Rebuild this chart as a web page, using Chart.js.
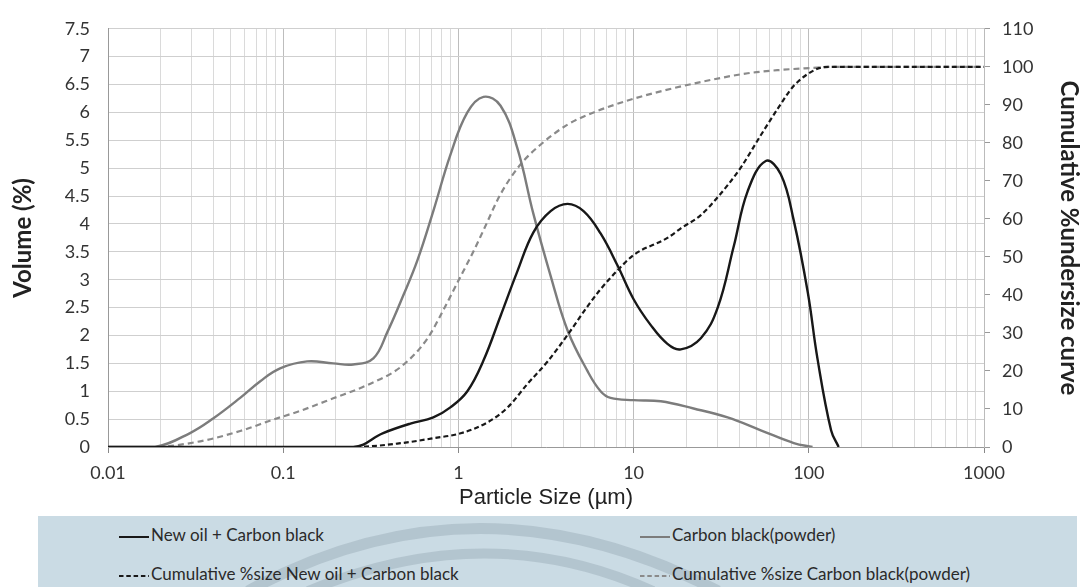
<!DOCTYPE html>
<html>
<head>
<meta charset="utf-8">
<title>Particle size distribution</title>
<script src="https://cdn.jsdelivr.net/npm/chart.js@4.4.1/dist/chart.umd.min.js"></script>
<style>
  body { margin: 0; background: #fff; width: 1081px; height: 587px; overflow: hidden; position: relative; font-family: Lato, sans-serif; }
  #chart-wrap { position: absolute; left: 0; top: 0; width: 1081px; height: 515px; }
  #legend-band { position: absolute; left: 38px; top: 516px; width: 1039px; height: 71px; background: #cadbe4; overflow: hidden; }
  #legend-band svg.deco { position: absolute; left: 0; top: 0; }
  .item { position: absolute; font-size: 17px; color: #2a2a2a; white-space: nowrap; line-height: 20px; }
  .item svg { vertical-align: middle; margin-right: 2px; }
</style>
</head>
<body>
<div id="chart-wrap"><canvas id="psd-chart" width="1081" height="515"></canvas></div>
<div id="legend-band">
  <svg class="deco" width="1039" height="71">
    <path d="M 210 75 Q 440 -50 680 75" fill="none" stroke="rgba(100,120,130,0.22)" stroke-width="11"/>
    <path d="M 270 75 Q 450 0 615 75" fill="none" stroke="rgba(100,120,130,0.22)" stroke-width="10"/>
  </svg>
  <div id="legend"></div>
</div>
<script>
// values (size in µm)
const blendSize = [0.01, 0.251, 0.372, 0.532, 0.719, 0.90, 1.125, 1.39, 1.74, 2.17, 2.68, 3.36, 4.2, 5.18, 6.48, 8.11, 10, 12.5, 15.6, 18.6, 24.2, 30.2, 37.3, 44.8, 56.8, 69.2, 82.1, 98.7, 112, 134, 148];
const blendVolume = [0, 0, 0.25, 0.42, 0.53, 0.71, 1.0, 1.55, 2.35, 3.15, 3.85, 4.23, 4.36, 4.23, 3.83, 3.25, 2.65, 2.19, 1.85, 1.75, 1.95, 2.5, 3.6, 4.59, 5.13, 4.89, 4.06, 2.77, 1.59, 0.30, 0];

const blendCumSize = [0.01, 0.251, 0.467, 0.719, 1.03, 1.47, 1.91, 2.48, 3.23, 4.2, 5.46, 6.48, 8.11, 10, 15.6, 18.6, 24.2, 30.2, 40.9, 53.2, 66.5, 82.1, 112, 130, 1000];
const blendCumulative = [0, 0, 1, 2.3, 3.6, 6.5, 10.4, 16.6, 22.5, 29.5, 37, 41.5, 46.5, 50.5, 55, 57.5, 61, 65.7, 73.5, 82, 89, 95, 99.5, 100, 100];

const powderSize = [0.01, 0.0186, 0.0294, 0.0398, 0.0568, 0.074, 0.096, 0.137, 0.193, 0.251, 0.327, 0.393, 0.485, 0.584, 0.719, 0.90, 1.125, 1.39, 1.74, 2.17, 2.68, 3.36, 4.2, 5.46, 6.48, 7.39, 10, 14.3, 22, 34.4, 53.2, 82.1, 105];
const powderVolume = [0, 0, 0.25, 0.51, 0.88, 1.18, 1.41, 1.535, 1.50, 1.48, 1.59, 2.06, 2.72, 3.35, 4.23, 5.24, 6.0, 6.28, 6.12, 5.36, 4.18, 3.07, 2.09, 1.36, 1.0, 0.88, 0.84, 0.82, 0.69, 0.53, 0.30, 0.07, 0];

const powderCumSize = [0.01, 0.0181, 0.0336, 0.0568, 0.0877, 0.125, 0.193, 0.302, 0.467, 0.665, 0.82, 0.994, 1.22, 1.39, 1.74, 2.26, 2.94, 4.2, 5.91, 10, 19.3, 44.8, 70, 112, 130, 1000];
const powderCumulative = [0, 0, 1.5, 4.2, 7.2, 9.5, 12.8, 16.3, 21, 28.5, 36, 43.5, 51.5, 57, 66.5, 74.3, 79.5, 84.8, 88, 91.6, 95, 98.3, 99.2, 99.8, 100, 100];

const decades = [0.01, 0.1, 1, 10, 100, 1000];
const minorSteps = [2, 3, 4, 5, 6, 7, 8, 9];

const seriesNames = [
    'New oil + Carbon black',
    'Cumulative %size New oil + Carbon black',
    'Carbon black(powder)',
    'Cumulative %size Carbon black(powder)'
];

const DARK = '#181818';
const GREY = '#7c7c7c';
const GREY_DASH = '#8a8a8a';

const toPoints = (xs, ys) => xs.map((x, i) => ({ x: x, y: ys[i] }));
const isDecade = v => Math.abs(Math.log10(v) - Math.round(Math.log10(v))) < 1e-9;

const tickFont = { family: 'Lato', size: 18 };
const titleFont = { family: 'Lato', size: 24, weight: 'bold' };

const ctx = document.getElementById('psd-chart').getContext('2d');
new Chart(ctx, {
    type: 'line',
    data: {
        datasets: [
            {
                label: seriesNames[0],
                data: toPoints(blendSize, blendVolume),
                yAxisID: 'y',
                borderColor: DARK,
                borderWidth: 2.4,
                tension: 0.4
            },
            {
                label: seriesNames[1],
                data: toPoints(blendCumSize, blendCumulative),
                yAxisID: 'y1',
                borderColor: DARK,
                borderWidth: 2.2,
                borderDash: [5, 3],
                cubicInterpolationMode: 'monotone'
            },
            {
                label: seriesNames[2],
                data: toPoints(powderSize, powderVolume),
                yAxisID: 'y',
                borderColor: GREY,
                borderWidth: 2.4,
                tension: 0.4
            },
            {
                label: seriesNames[3],
                data: toPoints(powderCumSize, powderCumulative),
                yAxisID: 'y1',
                borderColor: GREY_DASH,
                borderWidth: 2.2,
                borderDash: [6, 4],
                cubicInterpolationMode: 'monotone'
            }
        ]
    },
    options: {
        responsive: false,
        animation: false,
        elements: { point: { radius: 0 } },
        layout: { padding: { top: 22, left: 0, right: 0, bottom: 0 } },
        plugins: {
            legend: { display: false },
            tooltip: { enabled: false }
        },
        scales: {
            x: {
                type: 'logarithmic',
                min: 0.01,
                max: 1000,
                afterBuildTicks: scale => {
                    const ticks = [];
                    decades.forEach(d => {
                        ticks.push({ value: d });
                        if (d < 1000) minorSteps.forEach(m => ticks.push({ value: +(m * d).toPrecision(6) }));
                    });
                    scale.ticks = ticks;
                },
                afterFit: scale => { scale.height = 68; },
                ticks: {
                    autoSkip: false,
                    maxRotation: 0,
                    padding: 9,
                    color: '#333',
                    font: tickFont,
                    callback: v => isDecade(v) ? String(v) : ''
                },
                grid: {
                    color: c => (c.tick && isDecade(c.tick.value)) ? '#bdbdbd' : '#dadada',
                    tickColor: c => (c.tick && isDecade(c.tick.value)) ? '#888' : 'transparent',
                    tickLength: 6
                },
                border: { color: '#999' },
                title: {
                    display: true,
                    text: 'Particle Size (µm)',
                    color: '#222',
                    font: { family: 'Liberation Sans', size: 22 },
                    padding: { top: 0, bottom: 4 }
                }
            },
            y: {
                position: 'left',
                min: 0,
                max: 7.5,
                afterFit: scale => { scale.width = 108; },
                ticks: {
                    stepSize: 0.5,
                    padding: 18,
                    color: '#333',
                    font: tickFont,
                    callback: v => String(v)
                },
                grid: { color: '#cfcfcf', drawTicks: false },
                border: { color: '#999' },
                title: {
                    display: true,
                    text: 'Volume (%)',
                    color: '#222',
                    font: titleFont,
                    padding: { top: 9, bottom: 0 }
                }
            },
            y1: {
                position: 'right',
                min: 0,
                max: 110,
                afterFit: scale => { scale.width = 97; },
                ticks: { stepSize: 10, padding: 12, color: '#333', font: tickFont },
                grid: { drawOnChartArea: false, tickLength: 6, tickColor: '#999' },
                border: { color: '#bbb' },
                title: {
                    display: true,
                    text: 'Cumulative %undersize curve',
                    color: '#222',
                    font: titleFont,
                    padding: { top: -2, bottom: 0 }
                }
            }
        }
    }
});

// legend, laid out like the scan: two columns, two rows
const legendSpecs = [
    { name: seriesNames[0], color: DARK, dash: null, left: 81, top: 9 },
    { name: seriesNames[1], color: DARK, dash: '4.5,2.8', left: 81, top: 48 },
    { name: seriesNames[2], color: GREY, dash: null, left: 602, top: 9 },
    { name: seriesNames[3], color: GREY_DASH, dash: '4.5,2.8', left: 602, top: 48 }
];

const legendEl = document.getElementById('legend');
legendSpecs.forEach(spec => {
    const item = document.createElement('div');
    item.className = 'item';
    item.style.left = spec.left + 'px';
    item.style.top = spec.top + 'px';
    const dashAttr = spec.dash ? ` stroke-dasharray="${spec.dash}"` : '';
    item.innerHTML = `<svg width="30" height="6"><line x1="0" y1="3" x2="30" y2="3" stroke="${spec.color}" stroke-width="2"${dashAttr}/></svg>` + spec.name;
    legendEl.appendChild(item);
});
</script>
</body>
</html>
